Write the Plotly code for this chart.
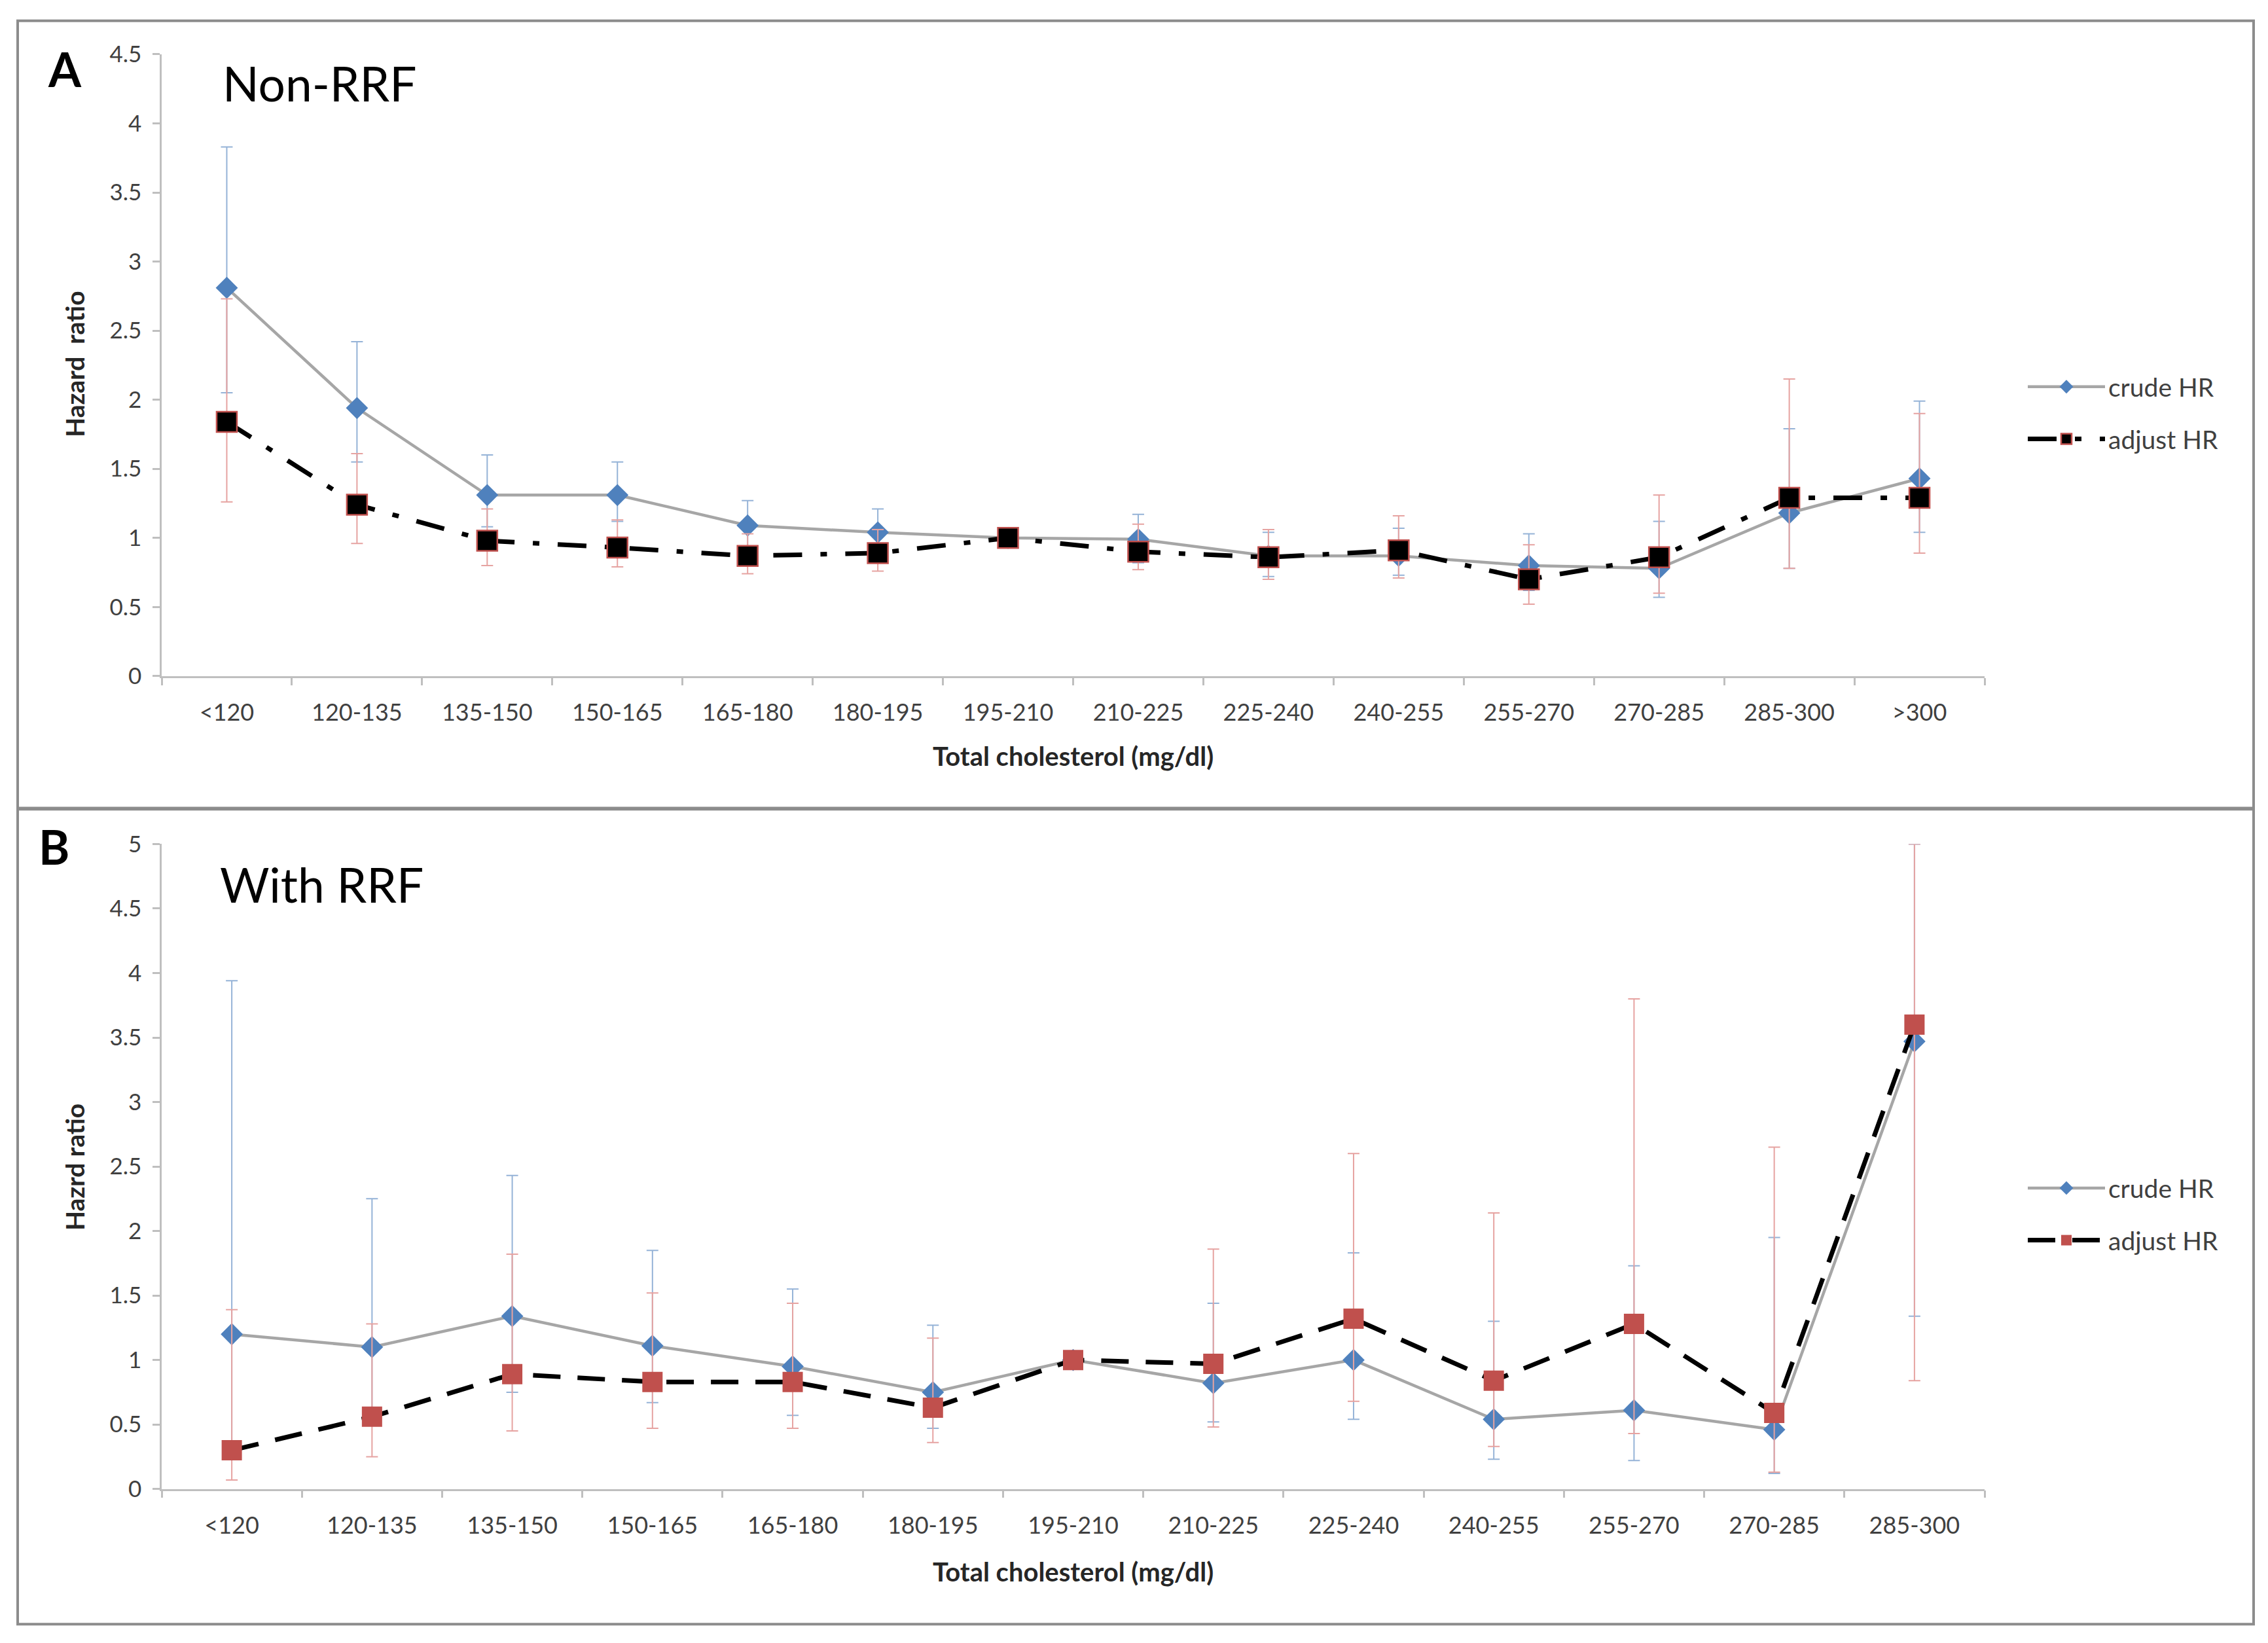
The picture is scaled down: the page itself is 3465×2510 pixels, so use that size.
import plotly.graph_objects as go

W, H = 3465, 2510

# ---------------- data ----------------
cats_A = ["<120", "120-135", "135-150", "150-165", "165-180", "180-195", "195-210",
          "210-225", "225-240", "240-255", "255-270", "270-285", "285-300", ">300"]
crude_A = [2.81, 1.94, 1.31, 1.31, 1.09, 1.04, 1.00, 0.99, 0.87, 0.87, 0.80, 0.78, 1.18, 1.43]
crude_A_lo = [2.05, 1.55, 1.08, 1.12, 0.92, 0.88, 1.00, 0.82, 0.72, 0.73, 0.62, 0.57, 0.78, 1.04]
crude_A_hi = [3.83, 2.42, 1.60, 1.55, 1.27, 1.21, 1.00, 1.17, 1.04, 1.07, 1.03, 1.12, 1.79, 1.99]
adj_A = [1.84, 1.24, 0.98, 0.93, 0.87, 0.89, 1.00, 0.90, 0.86, 0.91, 0.70, 0.86, 1.29, 1.29]
adj_A_lo = [1.26, 0.96, 0.80, 0.79, 0.74, 0.76, 1.00, 0.77, 0.70, 0.71, 0.52, 0.60, 0.78, 0.89]
adj_A_hi = [2.73, 1.61, 1.21, 1.13, 1.03, 1.06, 1.00, 1.10, 1.06, 1.16, 0.95, 1.31, 2.15, 1.90]

cats_B = ["<120", "120-135", "135-150", "150-165", "165-180", "180-195", "195-210",
          "210-225", "225-240", "240-255", "255-270", "270-285", "285-300"]
crude_B = [1.20, 1.10, 1.34, 1.11, 0.95, 0.75, 1.00, 0.82, 1.00, 0.54, 0.61, 0.46, 3.47]
crude_B_lo = [0.36, 0.54, 0.75, 0.67, 0.57, 0.47, 1.00, 0.52, 0.54, 0.23, 0.22, 0.12, 1.34]
crude_B_hi = [3.94, 2.25, 2.43, 1.85, 1.55, 1.27, 1.00, 1.44, 1.83, 1.30, 1.73, 1.95, 5.00]
adj_B = [0.30, 0.56, 0.89, 0.83, 0.83, 0.63, 1.00, 0.97, 1.32, 0.84, 1.28, 0.59, 3.60]
adj_B_lo = [0.07, 0.25, 0.45, 0.47, 0.47, 0.36, 1.00, 0.48, 0.68, 0.33, 0.43, 0.13, 0.84]
adj_B_hi = [1.39, 1.28, 1.82, 1.52, 1.44, 1.17, 1.00, 1.86, 2.60, 2.14, 3.80, 2.65, 5.00]

yticks_A = [0, 0.5, 1, 1.5, 2, 2.5, 3, 3.5, 4, 4.5]
yticks_B = [0, 0.5, 1, 1.5, 2, 2.5, 3, 3.5, 4, 4.5, 5]

# ---------------- styles ----------------
FONT = "Lato, Carlito, 'Open Sans', sans-serif"
GRAY_LINE = "#A6A6A6"
BLUE = "#4F81BD"
RED = "#C0504D"
ERR_BLUE = "#95B3D7"
ERR_RED = "#E6A3A1"
AXIS = "#BFBFBF"
TXT = "#404040"


def err(v, lo, hi):
    return dict(type="data", symmetric=False,
                array=[h - x for x, h in zip(v, hi)],
                arrayminus=[x - l for x, l in zip(v, lo)])


fig = go.Figure()

# Panel A
e = err(crude_A, crude_A_lo, crude_A_hi)
e.update(color=ERR_BLUE, thickness=2, width=9)
fig.add_trace(go.Scatter(x=cats_A, y=crude_A, name="crude HR", mode="lines+markers",
                         line=dict(color=GRAY_LINE, width=4.5),
                         marker=dict(symbol="diamond", size=26, color=BLUE),
                         error_y=e, xaxis="x", yaxis="y", legend="legend",
                         legendgroup="a1"))
e = err(adj_A, adj_A_lo, adj_A_hi)
e.update(color=ERR_RED, thickness=2, width=9)
fig.add_trace(go.Scatter(x=cats_A, y=adj_A, name="adjust HR", mode="lines+markers",
                         line=dict(color="black", width=7, dash="44px,28px,10px,28px"),
                         marker=dict(symbol="square", size=31, color="black",
                                     line=dict(color=RED, width=2.5)),
                         error_y=e, xaxis="x", yaxis="y", legend="legend",
                         legendgroup="a2"))

# Panel B
e = err(crude_B, crude_B_lo, crude_B_hi)
e.update(color=ERR_BLUE, thickness=2, width=9)
fig.add_trace(go.Scatter(x=cats_B, y=crude_B, name="crude HR", mode="lines+markers",
                         line=dict(color=GRAY_LINE, width=4.5),
                         marker=dict(symbol="diamond", size=26, color=BLUE),
                         error_y=e, xaxis="x2", yaxis="y2", legend="legend2",
                         legendgroup="b1"))
e = err(adj_B, adj_B_lo, adj_B_hi)
e.update(color=ERR_RED, thickness=2, width=9)
fig.add_trace(go.Scatter(x=cats_B, y=adj_B, name="adjust HR", mode="lines+markers",
                         line=dict(color="black", width=7, dash="42px,26px"),
                         marker=dict(symbol="square", size=31, color=RED),
                         error_y=e, xaxis="x2", yaxis="y2", legend="legend2",
                         legendgroup="b2"))

xdom = [247 / W, 3032 / W]
ydomA = [1 - 1027 / H, 1 - 61 / H]
ydomB = [1 - 2290 / H, 1 - 1288 / H]

xcommon = dict(type="category", showline=True, linecolor=AXIS, linewidth=2.5,
               ticks="outside", tickson="boundaries", ticklen=11, tickcolor=AXIS,
               tickwidth=2.5, showgrid=False, zeroline=False,
               tickfont=dict(family=FONT, size=36, color=TXT), ticklabelstandoff=22,
               fixedrange=True)
ycommon = dict(showline=True, linecolor=AXIS, linewidth=2.5, ticks="outside",
               ticklen=11, tickcolor=AXIS, tickwidth=2.5, showgrid=False,
               zeroline=False, tickfont=dict(family=FONT, size=35, color=TXT),
               ticklabelstandoff=10, fixedrange=True)

legfont = dict(family=FONT, size=39, color=TXT)
fig.update_layout(
    width=W, height=H,
    margin=dict(l=0, r=0, t=0, b=0),
    paper_bgcolor="white", plot_bgcolor="white",
    font=dict(family=FONT, color=TXT),
    xaxis=dict(domain=xdom, anchor="y", range=[-0.5, len(cats_A) - 0.5], **xcommon),
    yaxis=dict(domain=ydomA, anchor="x", range=[0, 4.5], tickvals=yticks_A,
               ticktext=[f"{v:g}" for v in yticks_A], **ycommon),
    xaxis2=dict(domain=xdom, anchor="y2", range=[-0.5, len(cats_B) - 0.5], **xcommon),
    yaxis2=dict(domain=ydomB, anchor="x2", range=[0, 5], tickvals=yticks_B,
                ticktext=[f"{v:g}" for v in yticks_B], **ycommon),
    legend=dict(x=3093 / W, y=1 - 545 / H, xanchor="left", yanchor="top",
                font=legfont, bgcolor="rgba(0,0,0,0)",
                traceorder="grouped", tracegroupgap=26, itemwidth=118),
    legend2=dict(x=3093 / W, y=1 - 1790 / H, xanchor="left", yanchor="top",
                 font=legfont, bgcolor="rgba(0,0,0,0)",
                 traceorder="grouped", tracegroupgap=26, itemwidth=118),
    showlegend=True,
)

# panel borders
for y0, y1 in [(9, 1232), (1234, 2500)]:
    fig.add_shape(type="rect", xref="paper", yref="paper",
                  x0=27 / W, x1=3443 / W, y0=1 - y1 / H, y1=1 - y0 / H,
                  line=dict(color="#8C8C8C", width=4), fillcolor="rgba(0,0,0,0)",
                  layer="below")


def ann(text, x, y, size, bold=False, color="black", angle=0, xanchor="center"):
    fig.add_annotation(text=f"<b>{text}</b>" if bold else text, xref="paper",
                       yref="paper", x=x / W, y=1 - y / H, showarrow=False,
                       font=dict(family=FONT, size=size, color=color),
                       textangle=angle, xanchor=xanchor, yanchor="middle")


ann("A", 99, 83, 72, bold=True)
ann("Non-RRF", 338, 106, 73, xanchor="left")
ann("Hazard  ratio", 114, 543, 39, bold=True, color="#262626", angle=-90)
ann("Total cholesterol (mg/dl)", 1639, 1151, 40, bold=True, color="#262626")

ann("B", 82, 1292, 72, bold=True)
ann("With RRF", 334, 1351, 73, xanchor="left")
ann("Hazrd ratio", 114, 1790, 39, bold=True, color="#262626", angle=-90)
ann("Total cholesterol (mg/dl)", 1639, 2418, 40, bold=True, color="#262626")

fig.write_html("out.html", config={"displayModeBar": False},
               post_script="document.body.style.margin='0';"
                           "document.documentElement.style.overflow='hidden';")
